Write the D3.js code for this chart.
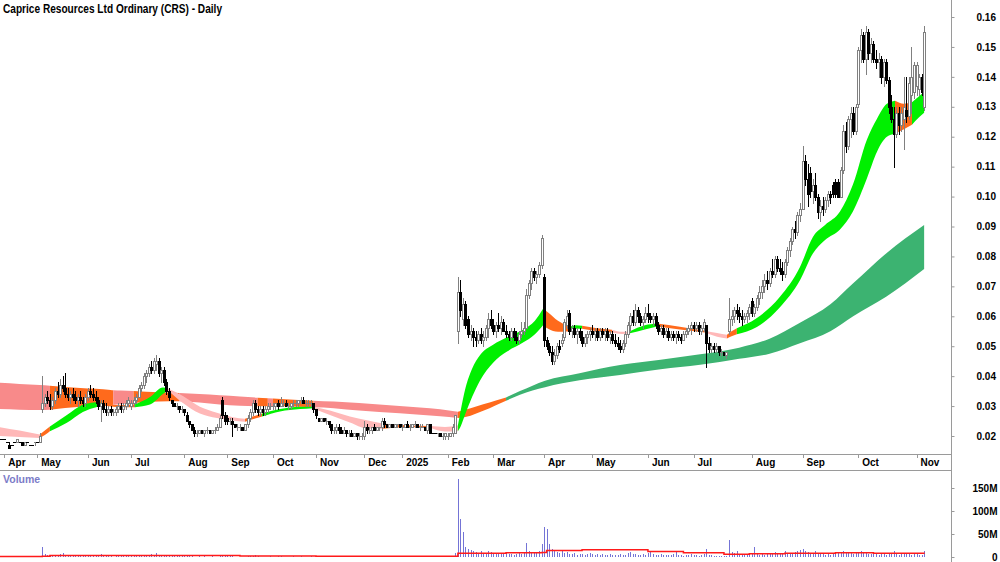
<!DOCTYPE html>
<html>
<head>
<meta charset="utf-8">
<script src="https://cdn.jsdelivr.net/npm/d3@7"></script>
<style>
  body { margin: 0; background: #fff; }
  text { font-family: "Liberation Sans", Arial, sans-serif; font-weight: bold; }
</style>
</head>
<body>
<svg id="chart" width="1000" height="562"></svg>
<script>
// prices are in tenths of a cent (0.001), volume in millions
const title = 'Caprice Resources Ltd Ordinary (CRS) - Daily';
const monthLabels = ['Apr','May','Jun','Jul','Aug','Sep','Oct','Nov','Dec','2025','Feb','Mar','Apr','May','Jun','Jul','Aug','Sep','Oct','Nov'];
const barsPerMonth = [13,20,17,21,17,18,17,19,15,18,18,20,19,22,18,23,20,22,23,4];
const leadBars = 2; // late March 2024
const priceTicks = [20,30,40,50,60,70,80,90,100,110,120,130,140,150,160];
const volTicks = [0,50,100,150];

// [open, high, low, close]
const bars = [
  [19,19,19,19],[19,19,19,19],
  // Apr 2024
  [19,19,19,19],[18,18,18,18],[17,18,16,16],[17,17,17,17],[18,18,18,18],[18,19,18,19],[18,18,18,18],[18,18,17,17],[17,18,17,18],[18,18,18,18],[17,17,17,17],[17,17,17,17],[18,18,17,18],
  // May
  [18,18,18,18],[18,21,18,20],[29,40,28,31],[31,34,30,33],[33,35,31,32],[32,34,29,30],[30,33,29,32],[32,36,31,35],[35,38,33,34],[34,39,33,37],[37,40,35,36],[36,41,33,34],[34,36,32,33],[33,35,31,34],[34,36,32,33],[33,35,31,32],[32,34,30,33],[33,35,31,32],[32,33,30,31],[31,34,30,33],
  // Jun
  [33,36,32,35],[35,37,33,34],[34,36,32,33],[33,35,31,32],[32,33,29,30],[30,32,25,31],[31,32,28,29],[29,31,27,28],[28,30,27,29],[29,30,27,28],[28,29,27,28],[28,30,27,29],[29,31,28,30],[30,31,28,29],[29,31,28,30],[30,32,29,31],[31,33,30,32],
  // Jul
  [30,32,29,31],[31,33,30,32],[32,34,31,33],[33,37,33,36],[36,38,35,37],[37,41,36,40],[40,42,38,41],[41,44,40,43],[43,45,41,42],[42,46,41,45],[44,47,42,45],[45,46,40,41],[41,43,38,42],[42,43,37,38],[38,39,34,35],[35,36,32,33],[32,32,30,31],[31,31,30,30],[30,31,29,30],[30,30,28,29],[29,30,28,29],
  // Aug
  [29,29,27,28],[27,28,25,25],[25,25,23,24],[24,24,22,22],[22,23,20,21],[21,22,20,21],[21,22,21,22],[22,22,21,21],[21,22,20,22],[22,23,21,22],[22,22,21,21],[21,22,21,22],[22,23,21,22],[22,24,22,23],[23,27,23,26],[32,33,26,27],[27,28,24,25],
  // Sep
  [26,27,24,25],[25,26,24,25],[25,26,20,24],[24,24,23,23],[23,24,22,23],[23,24,22,23],[23,23,22,22],[22,24,22,24],[24,27,23,26],[26,29,25,28],[28,32,27,31],[31,32,28,29],[29,30,27,28],[28,30,27,29],[29,30,27,28],[28,30,27,29],[29,31,28,30],[30,31,29,30],
  // Oct
  [30,31,29,30],[30,31,29,31],[31,32,29,30],[30,33,30,31],[31,32,30,31],[31,32,30,30],[30,31,29,30],[30,31,29,31],[31,32,30,31],[31,32,30,31],[31,32,30,32],[32,33,31,32],[32,33,31,31],[31,32,30,31],[31,32,30,31],[31,32,30,31],[31,31,28,29],
  // Nov
  [29,29,26,27],[26,26,25,25],[25,26,25,26],[26,26,25,25],[25,26,24,25],[25,25,23,24],[24,24,21,22],[22,23,21,22],[22,24,21,23],[23,24,21,22],[22,23,21,21],[21,23,21,22],[22,22,20,21],[21,22,20,21],[21,22,20,20],[20,21,20,21],[21,21,19,20],[20,21,19,20],[20,21,19,20],
  // Dec
  [20,25,19,23],[23,24,21,22],[22,23,21,22],[22,23,21,23],[23,24,22,22],[22,23,22,23],[23,23,22,23],[23,26,22,25],[25,26,23,24],[24,24,23,23],[23,24,23,24],[24,24,23,23],[23,24,23,24],[24,24,23,24],[24,24,23,23],
  // Jan 2025
  [23,24,22,23],[23,24,23,24],[24,25,23,23],[23,24,22,23],[23,24,23,24],[24,25,23,24],[24,24,23,23],[23,24,22,23],[23,24,23,23],[23,23,22,22],[22,24,21,24],[24,24,21,21],[21,21,21,21],[21,21,21,21],[21,21,20,21],[21,21,20,20],[20,21,19,20],[20,21,19,21],
  // Feb
  [20,21,19,20],[20,21,20,21],[21,24,20,23],[21,27,21,27],[55,73,51,68],[68,72,60,62],[59,66,57,64],[64,65,56,57],[59,60,53,54],[54,57,52,55],[55,56,50,53],[53,55,50,52],[52,55,51,54],[54,56,51,52],[52,55,50,53],[53,57,52,56],[56,61,53,59],[59,62,56,57],
  // Mar
  [57,59,54,55],[55,58,53,57],[57,61,55,56],[56,60,54,58],[58,59,55,55],[55,57,53,54],[54,55,52,53],[53,56,52,55],[55,56,52,53],[53,55,51,52],[52,55,51,54],[54,58,53,55],[55,58,54,56],[56,69,56,67],[67,72,66,71],[71,76,69,75],[75,76,72,73],[73,75,71,74],[74,78,73,77],[77,87,76,86],
  // Apr
  [73,74,50,52],[52,53,49,50],[50,51,47,48],[48,50,44,45],[45,49,44,47],[47,51,46,50],[50,52,48,49],[51,54,50,52],[53,59,52,58],[57,62,56,60],[61,62,54,55],[55,57,53,56],[56,57,53,54],[54,56,51,55],[55,56,52,53],[53,55,50,51],[51,54,50,53],[53,55,51,54],[54,56,52,55],
  // May
  [55,57,53,54],[54,56,52,55],[55,56,52,53],[53,56,52,55],[55,56,53,54],[54,56,52,55],[55,56,52,53],[53,55,51,54],[54,55,51,52],[52,54,50,51],[51,53,49,50],[50,52,48,49],[49,52,48,51],[51,55,50,54],[54,58,53,57],[57,61,55,60],[60,62,57,58],[58,64,57,62],[62,63,58,60],[60,61,57,58],[58,60,56,59],[59,63,58,61],
  // Jun
  [61,64,58,60],[60,61,58,59],[59,61,57,60],[60,61,56,57],[57,58,54,55],[55,57,54,56],[56,57,53,54],[54,56,53,55],[55,56,52,53],[53,55,52,54],[54,55,52,53],[53,55,51,54],[54,55,52,53],[53,54,51,52],[52,55,52,54],[54,56,53,55],[55,57,54,56],[56,58,54,57],
  // Jul
  [57,58,55,56],[56,58,55,57],[57,58,54,55],[55,57,54,56],[56,59,55,58],[57,57,43,51],[51,53,48,49],[49,51,48,50],[50,51,48,49],[49,51,48,50],[50,50,47,48],[48,49,47,48],[48,48,47,47],[47,48,46,48],[55,66,54,59],[59,62,57,60],[60,63,58,62],[62,64,59,61],[61,63,58,60],[60,62,57,59],[59,61,58,60],[60,62,58,61],[61,64,59,63],
  // Aug
  [65,66,60,61],[61,64,60,63],[63,67,62,66],[66,70,64,68],[68,72,66,70],[70,74,68,72],[72,75,69,71],[71,76,70,75],[75,79,73,74],[74,80,73,79],[79,80,75,76],[76,79,74,75],[75,78,72,74],[74,79,73,78],[78,83,77,82],[82,86,80,85],[85,90,84,89],[89,92,86,88],[88,95,87,94],[94,98,92,96],
  // Sep
  [96,117,96,112],[112,114,104,106],[106,111,97,101],[108,110,100,102],[102,106,98,104],[104,108,99,100],[100,101,93,95],[95,99,92,97],[97,100,94,96],[96,100,95,99],[99,102,97,101],[101,102,98,100],[104,105,100,101],[105,106,100,101],[105,106,100,100],[100,110,100,109],[109,124,108,122],[122,125,115,117],[117,127,116,126],[126,130,120,128],[128,130,121,122],[122,131,121,130],
  // Oct
  [131,150,130,149],[149,156,145,154],[154,155,145,146],[146,157,141,155],[155,156,146,148],[148,153,145,151],[151,152,145,146],[146,149,143,145],[145,148,140,146],[146,147,138,140],[140,146,137,145],[145,146,138,139],[139,140,128,130],[130,134,125,126],[126,130,110,121],[121,130,120,128],[128,130,121,124],[124,130,122,128],[126,140,116,130],[129,140,125,127],[127,140,126,138],[134,150,128,140],[135,145,133,144],
  // Nov
  [137,145,134,144],[136,141,134,140],[140,141,134,135],[130,157,129,155]
];

const volume = [
  0.3,0.2,
  0.5,0.3,0.2,0.6,0.4,0.3,0.2,0.5,0.3,0.4,0.2,0.3,0.5,
  1,3,22,6,4,3,5,4,3,6,8,5,3,4,2,3,2,4,3,2,
  3,2,4,2,3,6,2,2,1.5,2,1,2,3,2,2,1.5,2,
  2,3,2,4,3,5,4,3,6,4,8,5,3,4,2,4,3,2,2,1.5,2,
  2,1.5,3,2,1,1,2,1,1.5,1,1,2,1,1,2,3,2,
  5,3,4,1,1,1,1,1,2,2,3,4,2,1,1,1,1,2,
  1,1,2,2,1,1,1,1,2,1,1,2,1,1,1,2,1,
  1,1,0.5,1,1,1,2,1,1,1,1,0.5,1,1,1,1,1,2,2,
  2,1,1,1,1,1,1,3,1,1,1,1,1,0.5,0.5,
  1,1,1,1,1,1,1,1,1,1,2,1,0.5,0.5,0.5,0.5,1,1,
  1,1,2,8,170,83,55,22,18,15,12,10,8,12,9,8,14,10,
  8,6,9,7,6,8,7,6,5,6,8,7,9,30,12,10,8,9,12,28,
  66,60,28,18,14,10,9,12,8,10,7,6,8,5,6,7,5,6,8,
  6,5,7,5,6,5,4,6,5,4,5,6,4,5,8,10,6,7,5,4,6,5,
  8,10,6,5,4,6,5,4,5,4,6,14,5,4,3,4,5,6,
  4,5,3,4,6,18,5,4,3,3,2,2,3,3,37,10,8,12,6,5,4,7,5,
  8,22,7,5,6,5,6,8,8,10,7,6,8,12,9,7,8,10,12,15,
  17,14,10,9,8,12,7,6,8,5,6,5,7,6,8,10,14,9,8,10,7,8,
  10,13,9,8,6,7,8,6,5,6,7,5,8,7,12,6,5,6,9,7,6,5,7,
  6,5,4,12
];

// volume average line, [bar, millions]
const volAverage = [[0,1],[17,1.5],[20,3],[50,3.5],[75,3],[95,2],[125,1.5],[150,1.5],[180,1.5],[181,8],[200,9],[214,10],[216,14],[230,16],[252,16],[256,12],[270,9],[286,6],[296,7],[310,8],[330,9],[345,8],[365,7]];

// long-term moving average ribbon: [bar, upper, lower]
const longRibbon = [
  ['pink',   [[0,37.8,29.0],[8,37.4,28.8],[16,37,28.7],[20,36.8,28.8]]],
  ['orange', [[20,36.8,28.8],[32,36,29.8],[44,35.4,30.3],[45,35.3,30.4]]],
  ['pink',   [[45,35.3,30.4],[48,35.2,30.6],[53,35,31]]],
  ['orange', [[53,35,31],[63,34.6,31.5],[71,34.4,31.6]]],
  ['pink',   [[71,34.4,31.6],[79,34,31.2],[87,33.6,30.5],[95,33.2,30.1],[102,32.8,29.9]]],
  ['orange', [[102,32.8,29.9],[106,32.6,29.9]]],
  ['pink',   [[106,32.6,29.9],[108,32.5,29.9]]],
  ['orange', [[108,32.5,29.9],[118,32,29.8],[124,31.8,29.6]]],
  ['pink',   [[124,31.8,29.6],[132,31.5,29.3],[142,31,28.5],[158,30,27.6],[174,28.9,26.6],[181,28.1,26.0]]],
  ['orange', [[181,28.1,26.0],[186,29.3,26.8],[191,30.6,28.4],[196,31.9,30.3],[200,32.9,31.8]]],
  ['sea',    [[200,32.9,31.8],[205.5,35,33.8],[215.4,38.5,36.3],[229,41,38.6],[245,43.7,40.4],[261,45.5,42.3],[276.6,47.3,43.8],[292,49.5,45.8],[304,52.5,47.5],[316,57.8,51],[328,64,55],[337,71,60],[350,81,66.5],[365,90.5,75.8]]]
];

// short-term moving average ribbon: [bar, upper, lower]
const shortRibbon = [
  ['lpink',  [[0,23,20],[8,21.8,19.7],[16,20.5,19.3]]],
  ['orange', [[16,20.5,19.3],[18,21.8,20.3],[20,23.2,21.6]]],
  ['lime',   [[20,23.2,21.6],[26.7,27,24.4],[33,30.4,28],[38.6,31.3,29.7],[41.7,30.8,30.1]]],
  ['orange', [[41.7,30.8,30.1],[47.7,30.3,29.6],[53.6,30.6,29.6]]],
  ['lime',   [[53.6,30.6,29.6],[59.5,33,30.5],[64.6,36.2,34],[66.6,35.9,35.3]]],
  ['lpink',  [[66.6,35.9,35.3],[72.5,33.4,31],[79.2,29.8,27.5],[85.9,27.8,26],[92.2,26.3,25.2],[97,25.8,24.8]]],
  ['orange', [[97,25.8,24.8],[100,26.5,25.6],[103.7,27.5,26.5]]],
  ['lime',   [[103.7,27.5,26.5],[110.8,29,28.2],[118.7,29.8,29],[123.8,29.8,29.3]]],
  ['lpink',  [[123.8,29.8,29.3],[130.5,28.5,27],[138.4,26.5,24.5],[145.1,25.3,22.5],[151.4,24.2,22.4]]],
  ['orange', [[151.4,24.2,22.4],[160,23.6,22.9],[170,23.3,22.8]]],
  ['lpink',  [[170,23.3,22.8],[175.9,23,21.5],[181,23.5,21.6]]],
  ['lime',   [[181,23.5,21.6],[182,28,23],[184,36,27.5],[186.6,42.5,33],[189.7,47,38.5],[194.9,50.5,44.5],[200.4,53,48.2],[206.7,55.5,51.2],[211.4,58.5,54],[214.6,62.5,57]]],
  ['orange', [[214.6,62.5,57],[216.6,61.3,55.8],[220.5,58.5,54.8],[225.2,56.5,55]]],
  ['lime',   [[225.2,56.5,55],[227.6,57,55.8],[230,56.8,55.8]]],
  ['orange', [[230,56.8,55.8],[235.9,56,55],[241.8,55.5,54.6]]],
  ['lpink',  [[241.8,55.5,54.6],[245.8,54.8,54.1],[248.9,55,54.3]]],
  ['lime',   [[248.9,55,54.3],[254.8,57,55.6],[259.6,57.6,56.6]]],
  ['orange', [[259.6,57.6,56.6],[268.6,56.5,55.6],[278.5,55.2,54.6]]],
  ['lpink',  [[278.5,55.2,54.6],[283.3,54.4,53.2],[287.2,53.8,52.6]]],
  ['orange', [[287.2,53.8,52.6],[289,55,53.3],[291.1,56,54]]],
  ['lime',   [[291.1,56,54],[299,59.4,56.4],[308.1,66.5,63],[316,76.5,72],[321.1,86.5,81],[325.9,90.5,85.5],[331.8,95,89],[336.9,104,95],[342.4,119,106],[346.4,126,115],[350.3,131,120],[353.5,132,121]]],
  ['orange', [[353.5,132,121],[357,131,122.5],[360.2,131.5,124]]],
  ['lime',   [[360.2,131.5,124],[363,133.5,126.5],[365,135,128]]]
];

const colors = { pink: '#f88a8a', lpink: '#ffb8b8', orange: '#ff6a1c', lime: '#00f000', sea: '#3cb371' };

const svg = d3.select('#chart');
const plotRight = 951;

const x = d3.scaleLinear().domain([0, bars.length - 1]).range([-0.77, -0.77 + (bars.length - 1) * 2.534]);
const y = d3.scaleLinear().domain([20, 160]).range([436, 17]);
const yVol = d3.scaleLinear().domain([0, 150]).range([557, 488]);

svg.append('defs').append('clipPath').attr('id', 'plotClip')
  .append('rect').attr('x', 0).attr('y', 0).attr('width', plotRight).attr('height', 454);

const plot = svg.append('g').attr('clip-path', 'url(#plotClip)');

const ribbonArea = d3.area()
  .x(d => x(d[0]))
  .y0(d => y(d[2]))
  .y1(d => y(d[1]))
  .curve(d3.curveMonotoneX);

plot.append('g').selectAll('path')
  .data(longRibbon)
  .join('path')
  .attr('d', d => ribbonArea(d[1]))
  .attr('fill', d => colors[d[0]]);

plot.append('g').selectAll('path')
  .data(shortRibbon)
  .join('path')
  .attr('d', d => ribbonArea(d[1]))
  .attr('fill', d => colors[d[0]]);

// candles
const candle = plot.append('g')
  .attr('shape-rendering', 'crispEdges')
  .selectAll('g')
  .data(bars)
  .join('g')
  .attr('transform', (d, i) => 'translate(' + Math.round(x(i)) + ',0)');

candle.each(function(d) {
  const g = d3.select(this);
  const [o, h, l, c] = d;
  const up = c >= o;
  const col = up ? '#808080' : '#000';
  if (h === l) {
    g.append('line').attr('x1', -1).attr('x2', 2)
      .attr('y1', Math.round(y(c)) + 0.5).attr('y2', Math.round(y(c)) + 0.5)
      .attr('stroke', '#000');
    return;
  }
  g.append('line').attr('x1', 0.5).attr('x2', 0.5)
    .attr('y1', Math.round(y(h))).attr('y2', Math.round(y(l)) + 1)
    .attr('stroke', col);
  const top = Math.round(y(Math.max(o, c)));
  const bot = Math.round(y(Math.min(o, c)));
  if (o === c) {
    g.append('line').attr('x1', -1).attr('x2', 2)
      .attr('y1', top + 0.5).attr('y2', top + 0.5).attr('stroke', col);
  } else if (up) {
    g.append('rect').attr('x', -0.5).attr('y', top + 0.5)
      .attr('width', 2).attr('height', Math.max(bot - top, 1))
      .attr('fill', '#fff').attr('stroke', col);
  } else {
    g.append('rect').attr('x', -1).attr('y', top)
      .attr('width', 3).attr('height', Math.max(bot - top + 1, 1))
      .attr('fill', '#000');
  }
});

// frame
const frame = svg.append('g').attr('stroke', '#9a9a9a').attr('shape-rendering', 'crispEdges');
frame.append('line').attr('x1', 0).attr('x2', plotRight).attr('y1', 454.5).attr('y2', 454.5);
frame.append('line').attr('x1', 0).attr('x2', plotRight).attr('y1', 470.5).attr('y2', 470.5);
frame.append('line').attr('x1', plotRight + 0.5).attr('x2', plotRight + 0.5).attr('y1', 0).attr('y2', 562);

// price axis
const yAxis = svg.append('g')
  .attr('transform', 'translate(' + (plotRight + 0.5) + ',0)')
  .call(d3.axisRight(y).tickValues(priceTicks).tickSize(3).tickPadding(22)
    .tickFormat(d => (d / 1000).toFixed(2)));
yAxis.select('.domain').remove();
yAxis.selectAll('line').attr('stroke', '#9a9a9a');
yAxis.selectAll('text').attr('font-size', 10).attr('fill', '#000')
  .attr('font-family', '"Liberation Sans", Arial, sans-serif');

// month axis
let start = leadBars;
const monthStarts = barsPerMonth.map(n => { const s = start; start += n; return s; });
const months = svg.append('g');
months.selectAll('line')
  .data(monthStarts)
  .join('line')
  .attr('x1', d => Math.round(x(d)) + 0.5).attr('x2', d => Math.round(x(d)) + 0.5)
  .attr('y1', 454).attr('y2', 458)
  .attr('stroke', '#9a9a9a');
months.selectAll('text')
  .data(monthStarts)
  .join('text')
  .attr('x', d => x(d) + 4)
  .attr('y', 466)
  .attr('font-size', 10)
  .text((d, i) => monthLabels[i]);

svg.append('text').attr('x', 3).attr('y', 13).attr('font-size', 12.5)
  .attr('textLength', 219).attr('lengthAdjust', 'spacingAndGlyphs')
  .text(title);

// volume panel
const volG = svg.append('g').attr('shape-rendering', 'crispEdges');
volG.selectAll('line')
  .data(volume)
  .join('line')
  .attr('x1', (d, i) => Math.round(x(i)) + 0.5)
  .attr('x2', (d, i) => Math.round(x(i)) + 0.5)
  .attr('y1', yVol(0))
  .attr('y2', d => yVol(d))
  .attr('stroke', '#7474d6');

svg.append('path')
  .datum(volAverage)
  .attr('d', d3.line().x(d => x(d[0])).y(d => yVol(d[1])).curve(d3.curveStepAfter))
  .attr('fill', 'none').attr('stroke', '#ff1a1a').attr('stroke-width', 1.5);

const volAxis = svg.append('g')
  .attr('transform', 'translate(' + (plotRight + 0.5) + ',0)')
  .call(d3.axisRight(yVol).tickValues(volTicks).tickSize(3)
    .tickFormat(d => d ? d + 'M' : '0'));
volAxis.select('.domain').remove();
volAxis.selectAll('line').attr('stroke', '#9a9a9a');
volAxis.selectAll('text').attr('font-size', 10).attr('fill', '#000')
  .attr('text-anchor', 'end').attr('x', 46)
  .attr('font-family', '"Liberation Sans", Arial, sans-serif');

svg.append('text').attr('x', 3).attr('y', 483).attr('font-size', 10.5)
  .attr('fill', '#7c7cc8').text('Volume');
</script>
</body>
</html>
